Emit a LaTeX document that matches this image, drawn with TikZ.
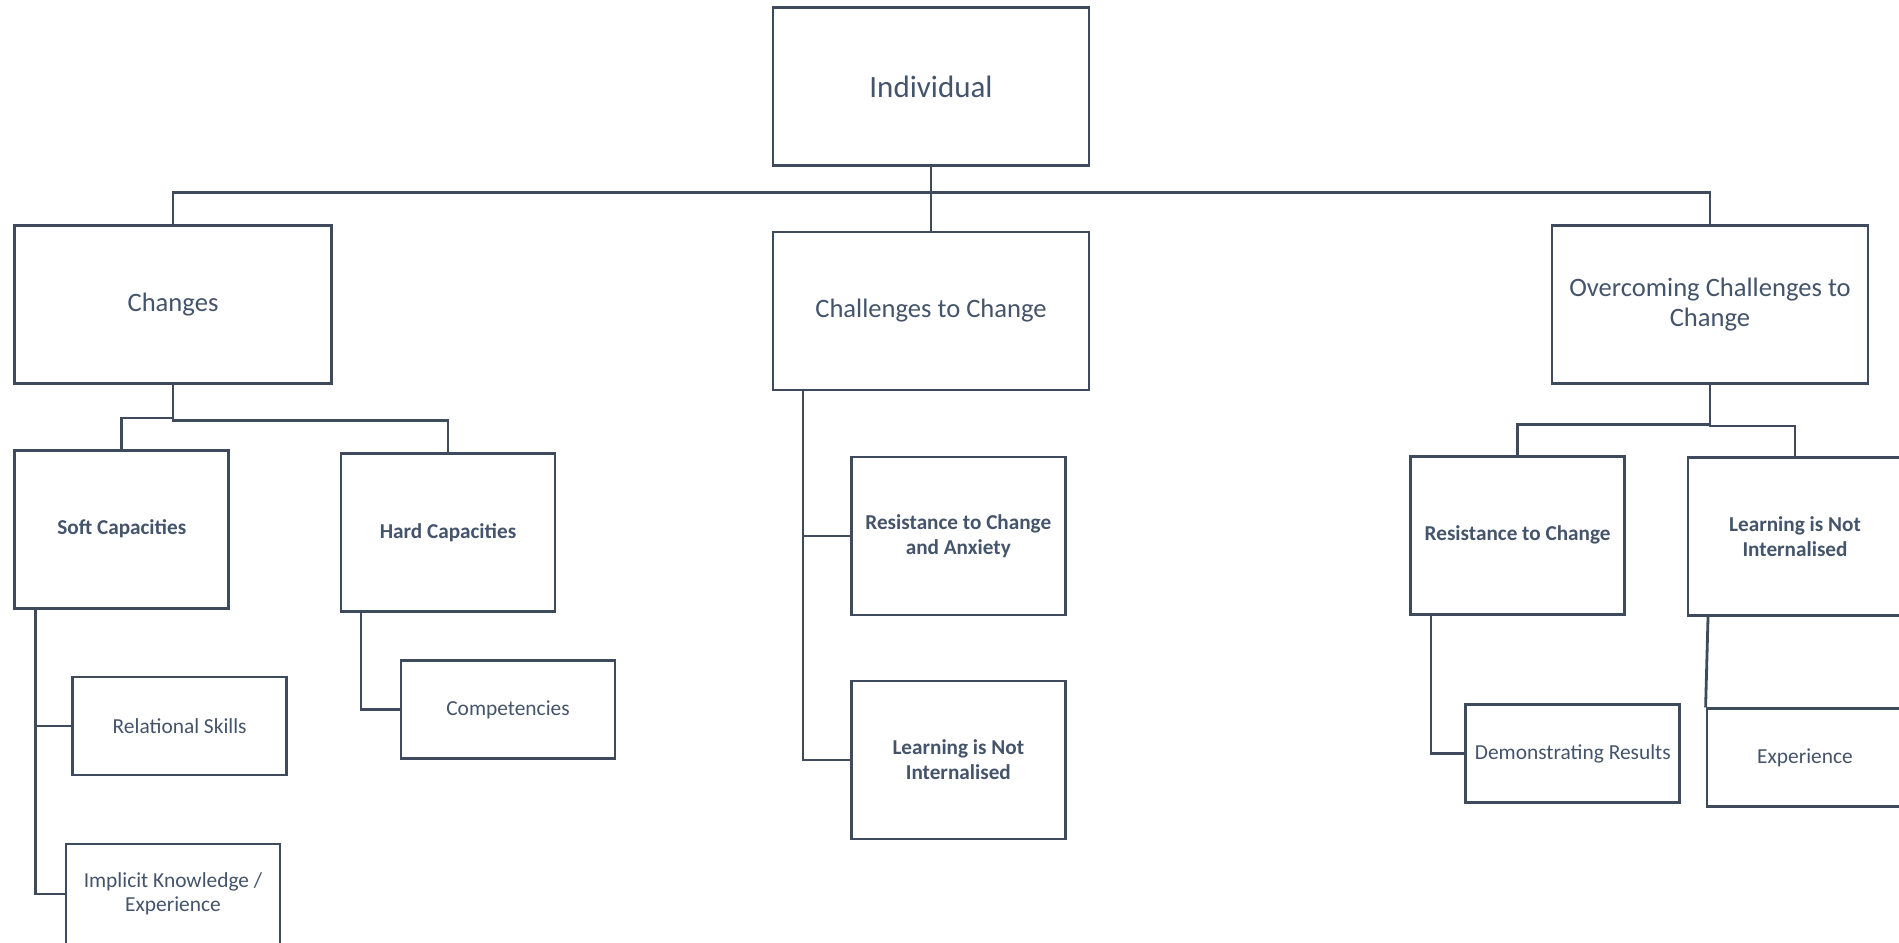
\documentclass[tikz,border=0pt]{standalone}
\usepackage{fontspec}
\setmainfont{Carlito}
\definecolor{txt}{HTML}{44546A}
\definecolor{ln}{HTML}{3E4B5D}
\begin{document}
\begin{tikzpicture}[x=0.5pt,y=-0.5pt,
  line width=1.4pt, draw=ln,
  box/.style={draw=ln, fill=white, line width=1.4pt, inner sep=0pt, align=center, text=txt},
  sz/.style 2 args={minimum width=#1*0.5pt, minimum height=#2*0.5pt},
  big/.style={font=\fontsize{15.5}{17}\selectfont},
  mid/.style={font=\fontsize{13.3}{14.6}\selectfont},
  sml/.style={font=\fontsize{10.7}{12.2}\selectfont},
  smb/.style={font=\fontsize{10.6}{12.4}\selectfont\bfseries}]
\useasboundingbox (0,0) rectangle (1899,942);

% top level
\node[box,big,sz={316}{158}] (ind) at (931,86.5) {Individual};
\node[box,mid,sz={317}{158}] (chg) at (173,304.2) {Changes};
\node[box,mid,sz={316}{158}] (chl) at (931,310.9) {Challenges to Change};
\node[box,mid,sz={316}{158}] (ovr) at (1710,304.5) {Overcoming Challenges to\\Change};

% second level
\node[box,smb,sz={214}{158}] (soft) at (121.8,529.2) {Soft Capacities};
\node[box,smb,sz={214}{158}] (hard) at (448,532.5) {Hard Capacities};
\node[box,smb,sz={214}{158}] (ra) at (958.3,536) {Resistance to Change\\and Anxiety};
\node[box,smb,sz={214}{158}] (lnm) at (958.3,760) {Learning is Not\\Internalised};
\node[box,smb,sz={214}{158}] (rr) at (1517.6,535.2) {Resistance to Change};
\node[box,smb,sz={214}{158}] (lnr) at (1795,536.7) {Learning is Not\\Internalised};

% leaves
\node[box,sml,sz={214}{98}] (rel) at (179.7,725.9) {Relational Skills};
\node[box,sml,sz={214}{100}] (impl) at (173,894) {Implicit Knowledge /\\Experience};
\node[box,sml,sz={214}{98}] (comp) at (508,709.5) {Competencies};
\node[box,sml,sz={214}{98}] (dem) at (1572.8,753.5) {Demonstrating Results};
\node[box,sml,sz={196}{98}] (exp) at (1805,757.7) {Experience};

% trunk and main bar
\coordinate (bar) at (931,192.3);
\draw (ind.south) -- (chl.north);
\draw (chg.north) -- (chg.north |- bar) -- (ovr.north |- bar) -- (ovr.north);

% branches under Changes
\draw (chg.south) -- ++(0,33.4) -| (soft.north);
\draw (chg.south) -- ++(0,36) -| (hard.north);

% branches under Overcoming
\draw (ovr.south) -- ++(0,39.4) -| (rr.north);
\draw (ovr.south) -- ++(0,41) -| (lnr.north);

% side spines
\coordinate (softsp) at ([shift={(21.9,0)}]soft.south west);
\draw (softsp) |- (impl.west);
\draw (softsp |- rel.west) -- (rel.west);

\coordinate (hardsp) at ([shift={(21.4,0)}]hard.south west);
\draw (hardsp) |- (comp.west);

\coordinate (chlsp) at ([shift={(31.3,0)}]chl.south west);
\draw (chlsp) |- (lnm.west);
\draw (chlsp |- ra.west) -- (ra.west);

\coordinate (rrsp) at ([shift={(21.8,0)}]rr.south west);
\draw (rrsp) |- (dem.west);

\coordinate (lnrsp) at ([shift={(21.4,0)}]lnr.south west);
\draw (lnrsp) -- (exp.north west);
\end{tikzpicture}
\end{document}
